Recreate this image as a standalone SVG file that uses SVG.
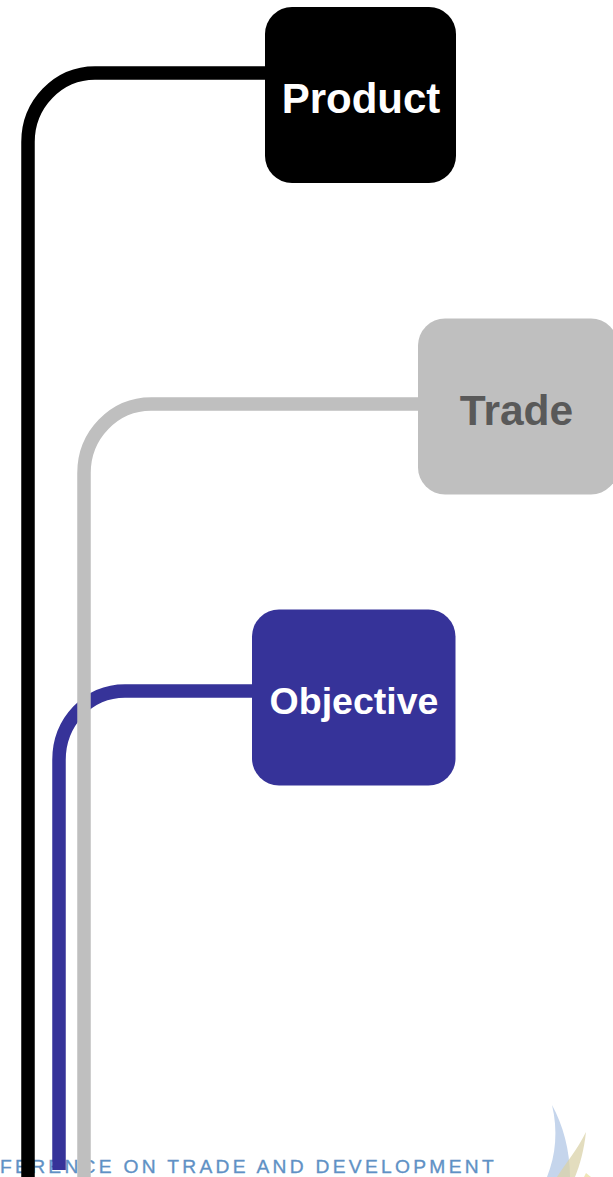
<svg xmlns="http://www.w3.org/2000/svg" width="613" height="1177" viewBox="0 0 613 1177">
<style>
.conn{fill:none;stroke-width:13.5}
.box{stroke:none}
.lbl{font-family:"Liberation Sans",Arial,sans-serif;font-weight:bold;text-anchor:middle}
.foot{font-family:"Liberation Sans",Arial,sans-serif;font-size:17.5px;fill:#5f91c5;stroke:#5f91c5;stroke-width:0.3}
</style>
<rect width="613" height="1177" fill="#ffffff"/>
<g id="backdrop">
<path d="M552 1105C563 1125 570 1150 570 1177L547 1177C556 1155 558 1130 552 1105Z" fill="#c5d5ec"/>
<path d="M586 1132C584 1150 580 1165 575 1177L557 1177C566 1163 577 1150 586 1132Z" fill="#d9d2a8" fill-opacity="0.75"/>
<path d="M586 1173L591 1177H584Z" fill="#efe7b8"/>
<text id="footer" class="foot" x="0" y="1172.500" textLength="497" lengthAdjust="spacingAndGlyphs" style="letter-spacing:3px">FERENCE ON TRADE AND DEVELOPMENT</text>
</g>
<g id="connectors">
<path class="conn" stroke="#000000" d="M266 73H95C58 73 28 104 28 142V1177"/>
<path class="conn" stroke="#363399" d="M253 691H125C88 691 59 722 59 760V1170"/>
<path class="conn" stroke="#bfbfbf" d="M419 404H151C114 404 84 435 84 473V1177"/>
</g>
<g id="node-product">
<rect class="box" x="265" y="7" width="191" height="176" rx="27" fill="#000000"/>
<text class="lbl" x="361" y="113" font-size="42" fill="#ffffff">Product</text>
</g>
<g id="node-trade">
<rect class="box" x="418" y="318.500" width="200" height="176" rx="27" fill="#bfbfbf"/>
<text class="lbl" x="516.500" y="425" font-size="42.500" fill="#595959">Trade</text>
</g>
<g id="node-objective">
<rect class="box" x="252" y="609.500" width="203.500" height="176" rx="27" fill="#363399"/>
<text class="lbl" x="354" y="714" font-size="37.500" fill="#ffffff">Objective</text>
</g>
</svg>
